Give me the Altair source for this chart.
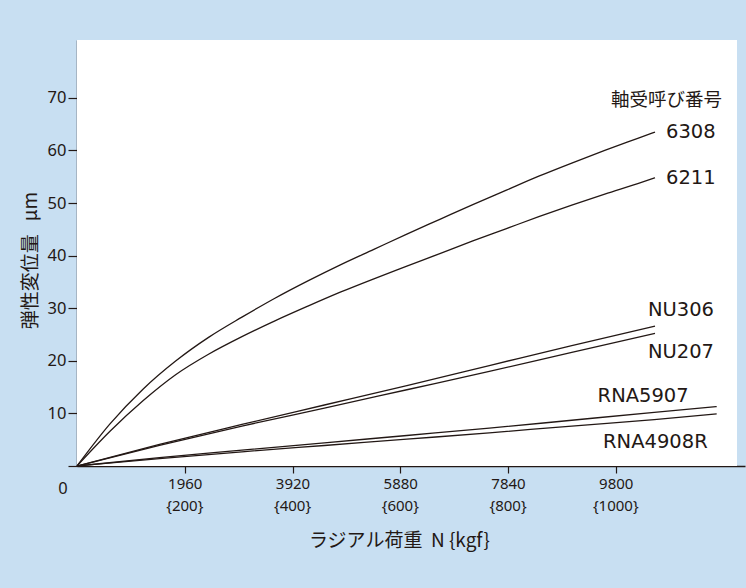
import altair as alt
import pandas as pd

# Radial load (N) and elastic displacement (µm) for each bearing
LOAD_6308 = [0, 600, 1200, 1800, 2400, 3000, 3600, 4200, 4800, 5400, 6000, 6600, 7200, 7800, 8400, 9000, 9600, 10200, 10514]
DISP_6308 = [0, 8.0, 14.6, 20.0, 24.5, 28.3, 31.9, 35.2, 38.3, 41.2, 44.1, 46.9, 49.7, 52.4, 55.1, 57.6, 60.0, 62.3, 63.5]

LOAD_6211 = [0, 600, 1200, 1800, 2400, 3000, 3600, 4200, 4800, 5400, 6000, 6600, 7200, 7800, 8400, 9000, 9600, 10200, 10514]
DISP_6211 = [0, 6.6, 12.4, 17.4, 21.3, 24.6, 27.6, 30.4, 33.1, 35.6, 38.0, 40.4, 42.8, 45.1, 47.4, 49.6, 51.7, 53.7, 54.8]

LOAD_NU306 = [0, 1500, 3000, 4500, 6000, 7500, 9000, 10514]
DISP_NU306 = [0, 4.1, 7.9, 11.6, 15.3, 19.1, 22.9, 26.6]

LOAD_NU207 = [0, 1500, 3000, 4500, 6000, 7500, 9000, 10514]
DISP_NU207 = [0, 3.9, 7.6, 11.0, 14.5, 18.0, 21.6, 25.2]

LOAD_RNA5907 = [0, 1500, 3000, 4500, 6000, 7500, 9000, 10500, 11636]
DISP_RNA5907 = [0, 1.6, 3.0, 4.4, 5.8, 7.2, 8.7, 10.2, 11.3]

LOAD_RNA4908R = [0, 1500, 3000, 4500, 6000, 7500, 9000, 10500, 11636]
DISP_RNA4908R = [0, 1.4, 2.7, 3.9, 5.1, 6.3, 7.6, 8.8, 9.9]

SERIES = {
    "6308": (LOAD_6308, DISP_6308),
    "6211": (LOAD_6211, DISP_6211),
    "NU306": (LOAD_NU306, DISP_NU306),
    "NU207": (LOAD_NU207, DISP_NU207),
    "RNA5907": (LOAD_RNA5907, DISP_RNA5907),
    "RNA4908R": (LOAD_RNA4908R, DISP_RNA4908R),
}

X_TICKS_N = [1960, 3920, 5880, 7840, 9800]
X_TICKS_KGF = ["{200}", "{400}", "{600}", "{800}", "{1000}"]
Y_TICKS = [0, 10, 20, 30, 40, 50, 60, 70]

LEGEND_TITLE = "軸受呼び番号"
# non-breaking spaces keep the gaps from collapsing in SVG text
X_TITLE = "ラジアル荷重\u00a0\u00a0N {kgf}"
Y_TITLE = "弾性変位量\u00a0\u00a0\u00a0μm"

INK = "#231815"
BG = "#c8dff2"
W, H = 668, 426

rows = []
for name, (xs, ys) in SERIES.items():
    for xv, yv in zip(xs, ys):
        rows.append({"bearing": name, "load": xv, "disp": yv})
df = pd.DataFrame(rows)
ends = df.groupby("bearing", sort=False).tail(1).reset_index(drop=True)
kgf = pd.DataFrame({"load": X_TICKS_N, "disp": [0] * len(X_TICKS_N), "kgf": X_TICKS_KGF})

x_scale = alt.Scale(domain=[0, 12151], nice=False, zero=True)
y_scale = alt.Scale(domain=[0, 81], nice=False, zero=True)

x_enc = alt.X(
    "load:Q", scale=x_scale,
    axis=alt.Axis(
        values=X_TICKS_N, format="d", title=X_TITLE,
        labelPadding=3, tickSize=7, labelFontSize=15,
        titleX=322, titleY=74, titleBaseline="middle", titleAnchor="middle",
        titleAlign="center",
    ),
)
y_enc = alt.Y(
    "disp:Q", scale=y_scale,
    axis=alt.Axis(
        values=Y_TICKS, labelExpr="datum.value == 0 ? '' : datum.label",
        title=Y_TITLE, tickSize=9, labelPadding=2, labelFontSize=16.5,
        titleX=-47, titleY=220, titleBaseline="middle", titleAlign="center",
    ),
)

panel = alt.Chart(pd.DataFrame({"p": [0]})).mark_rect(color="white").encode(
    x=alt.value(0), x2=alt.value(660), y=alt.value(0), y2=alt.value(H)
)

lines = alt.Chart(df).mark_line(color=INK, strokeWidth=1.3, interpolate="monotone").encode(
    x=x_enc, y=y_enc, detail="bearing:N", order="load:Q"
)

# kgf equivalents printed under the newton tick labels
kgf_labels = alt.Chart(kgf).mark_text(
    dy=40, baseline="middle", font="Noto Sans", fontSize=15, color=INK
).encode(x="load:Q", y="disp:Q", text="kgf:N")

label_style = dict(font="DejaVu Sans", fontSize=19.5, color=INK, baseline="middle")


def end_label(name, align, dx, dy):
    return alt.Chart(ends[ends["bearing"] == name]).mark_text(
        align=align, dx=dx, dy=dy, **label_style
    ).encode(x="load:Q", y="disp:Q", text="bearing:N")


labels = [
    end_label("6308", "left", 11, 0),
    end_label("6211", "left", 11, 0),
    end_label("NU306", "right", 59, -16),
    end_label("NU207", "right", 59, 19),
    end_label("RNA5907", "right", -28, -11),
    end_label("RNA4908R", "right", -9, 28),
]

legend_title = alt.Chart(ends[ends["bearing"] == "6308"]).mark_text(
    align="right", dx=67, dy=-32, baseline="middle",
    font="Noto Sans CJK JP", fontSize=18.5, color=INK,
).encode(x="load:Q", y="disp:Q", text=alt.value(LEGEND_TITLE))

origin = alt.Chart(pd.DataFrame({"load": [0], "disp": [0]})).mark_text(
    dx=-14, dy=23, font="Noto Sans", fontSize=16.5, color=INK, baseline="middle"
).encode(x="load:Q", y="disp:Q", text=alt.value("0"))

chart = alt.layer(panel, lines, kgf_labels, *labels, legend_title, origin).properties(
    width=W, height=H,
    background=BG,
    autosize=alt.AutoSizeParams(type="none"),
    padding={"left": 77, "top": 40, "right": 1, "bottom": 122},
).configure_view(strokeWidth=0).configure_axis(
    grid=False,
    domainColor=INK, domainWidth=1.4,
    tickColor=INK, tickWidth=1.2,
    labelFont="Noto Sans", labelColor=INK,
    titleFont="Noto Sans CJK JP", titleFontSize=19, titleFontWeight="normal",
    titleColor=INK,
)

chart.save("out.html", embed_options={"renderer": "svg", "actions": False})
